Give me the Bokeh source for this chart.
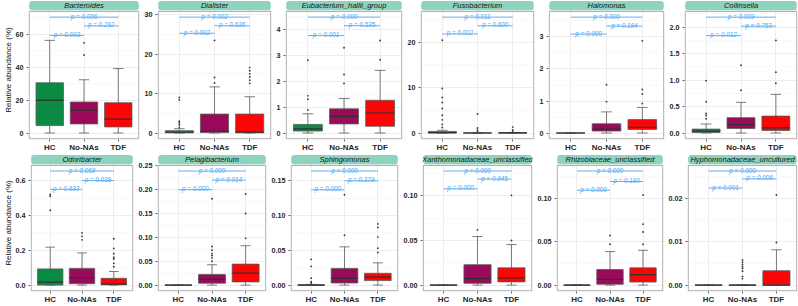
from bokeh.plotting import figure
from bokeh.layouts import column, row
from bokeh.models import Range1d, FixedTicker, PrintfTickFormatter, ColumnDataSource, Quad
from bokeh.core.properties import value
from bokeh.embed import file_html
from bokeh.resources import INLINE

# ---------------- data ----------------
groups = ["HC", "No-NAs", "TDF"]
group_colors = ["#0b8a43", "#990a5a", "#fb0606"]

taxa = ["Bacteroides", "Dialister", "Eubacterium_hallii_group", "Fusobacterium",
        "Halomonas", "Collinsella",
        "Odoribacter", "Pelagibacterium", "Sphingomonas",
        "Xanthomonadaceae_unclassified", "Rhizobiaceae_unclassified",
        "Hyphomonadaceae_uncultured"]

lower_whisker = [[0, 0, 0]] * 12

q1 = [[4.5, 5.5, 3.7], [0.05, 0.1, 0.05], [0.075, 0.35, 0.26], [0, 0, 0],
      [0, 0.06, 0.11], [0.01, 0.085, 0.048],
      [0, 0.008, 0.002], [0, 0.004, 0.0067], [0, 0.003, 0.0065],
      [0, 0.002, 0.0036], [0, 0.001, 0.0035], [0, 0, 0]]

median = [[20, 13.8, 8.4], [0.2, 0.4, 0.25], [0.16, 0.64, 0.77], [0.08, 0, 0.01],
          [0, 0.12, 0.18], [0.037, 0.16, 0.098],
          [0.017, 0.043, 0.006], [0, 0.012, 0.025], [0, 0.0097, 0.0115],
          [0, 0.0072, 0.0082], [0, 0.0066, 0.0121], [0, 0, 0]]

q3 = [[30.5, 18.8, 18.4], [0.6, 4.8, 4.8], [0.33, 0.93, 1.26], [0.35, 0.03, 0.05],
      [0, 0.29, 0.42], [0.074, 0.29, 0.32],
      [0.093, 0.096, 0.039], [0, 0.0223, 0.044], [0.0005, 0.024, 0.017],
      [0, 0.0229, 0.0194], [0, 0.0179, 0.0198], [0, 0, 0.0033]]

upper_whisker = [[56.2, 32.3, 39.1], [1.1, 11.7, 9.2], [0.74, 1.33, 2.41], [0.6, 0.07, 0.1],
                 [0, 0.66, 0.8], [0.17, 0.58, 0.73],
                 [0.218, 0.185, 0.078], [0, 0.0426, 0.0825], [0.001, 0.055, 0.032],
                 [0, 0.0545, 0.0455], [0, 0.0385, 0.04], [0, 0, 0.0081]]

outliers = [
    [[], [47.3, 54.7], []],
    [[1.5, 2.1, 2.6, 3.0, 8.4, 9.0], [12.7, 14.1, 23.5], [12.6, 13.4, 14.2, 15.0, 15.8, 16.6]],
    [[0.89, 1.3, 1.43, 2.8], [1.91, 2.25, 3.28], [2.82, 3.56]],
    [[1.2, 1.9, 2.9, 3.9, 5.4, 6.7, 7.8, 9.8, 20.4], [0.3, 0.6, 1.1, 4.2], [0.4, 0.7, 1.3]],
    [[], [0.98, 1.51], [0.92, 1.22, 1.36, 2.88]],
    [[0.27, 0.33, 0.37, 0.59, 0.99], [0.81, 1.28], [0.94, 1.15, 1.75]],
    [[0.43, 0.51, 0.52], [0.26, 0.28, 0.30], [0.105, 0.125, 0.15, 0.16, 0.18, 0.21, 0.266]],
    [[], [0.05, 0.057, 0.062, 0.066, 0.073, 0.081, 0.181], [0.098, 0.15, 0.191]],
    [[0.003, 0.005, 0.01, 0.027, 0.037], [0.0716, 0.13], [0.047, 0.053, 0.069, 0.083, 0.088]],
    [[], [0.062], [0.05, 0.1007]],
    [[], [0.047, 0.057], [0.047, 0.061, 0.07, 0.1036]],
    [[], [0.0015, 0.002, 0.0032, 0.0038, 0.0042, 0.0047, 0.0052, 0.0057], [0.0098, 0.0207]],
]

# comparisons: HC vs TDF (top), No-NAs vs TDF (middle), HC vs No-NAs (low)
comparisons = [("HC", "TDF"), ("No-NAs", "TDF"), ("HC", "No-NAs")]
p_values = [
    ["0.006", "0.292", "0.003"], ["0.002", "0.636", "0.002"], ["0.000", "0.535", "0.001"],
    ["0.011", "0.600", "0.002"], ["0.000", "0.184", "0.000"], ["0.009", "0.753", "0.012"],
    ["0.068", "0.039", "0.633"], ["0.000", "0.014", "0.000"], ["0.000", "0.378", "0.000"],
    ["0.000", "0.845", "0.000"], ["0.000", "0.190", "0.000"], ["0.000", "0.006", "0.001"],
]
bracket_y = [
    [70.3, 65.0, 59.2], [29.4, 27.2, 25.3], [4.46, 4.13, 3.75],
    [25.5, 23.6, 21.8], [3.62, 3.34, 3.09], [2.19, 2.02, 1.84],
    [0.655, 0.60, 0.55], [0.239, 0.22, 0.20], [0.164, 0.15, 0.137],
    [0.128, 0.119, 0.108], [0.131, 0.119, 0.109], [0.0262, 0.0244, 0.0223],
]

y_ticks = [
    [0, 20, 40, 60], [0, 10, 20, 30], [0, 1, 2, 3, 4], [0, 10, 20], [0, 1, 2, 3],
    [0, 0.5, 1.0, 1.5, 2.0],
    [0, 0.2, 0.4, 0.6], [0, 0.05, 0.10, 0.15, 0.20, 0.25], [0, 0.05, 0.10, 0.15],
    [0, 0.05, 0.10], [0, 0.05, 0.10], [0, 0.01, 0.02],
]
tick_formats = ["%d", "%d", "%d", "%d", "%d", "%.1f",
                "%.1f", "%.2f", "%.2f", "%.2f", "%.2f", "%.2f"]

y_title = "Relative abundance (%)"

# ---------------- styling / layout ----------------
FONT = "Liberation Sans"
STRIP = "#8dd3bd"
LINE = "#5a5a5a"
BLUE = "#4ea6f5"
TXT = "#262626"
BORDER = "#a3a3a3"

# per-figure horizontal geometry: (width, left border, right border)
geo_row1 = [(141, 23, 2), (132, 13, 2), (131, 12, 2), (132, 13, 2), (130, 11, 2), (132, 14, 1)]
geo_row2 = [(135, 23, 2), (133, 19, 2), (132, 20, 2), (134, 22, 2), (131, 19, 2), (133, 22, 1)]
# vertical geometry: (figure height, bottom border); strip lives in the top 11 px of the frame
vgeo_row1 = (154, 13)
vgeo_row2 = (152, 13)
STRIP_PX = 11.0   # strip band (incl. 1px gap) above the panel
PAD = 0.7         # px so the panel border is not clipped

has_radius = "border_radius" in Quad.properties()


def make_panel(i, width, left, right, h, bottom, ylabel):
    M = bracket_y[i][0]
    frame_h = h - bottom
    frame_w = width - left - right
    u = 1.1 * M / (frame_h - STRIP_PX - PAD)          # data units per pixel
    dx = PAD * 3.2 / (frame_w - 2 * PAD)
    y0 = -0.05 * M - PAD * u
    y1 = 1.05 * M + STRIP_PX * u
    p = figure(width=width, height=h, x_range=Range1d(0.4 - dx, 3.6 + dx),
               y_range=Range1d(y0, y1), output_backend="svg",
               toolbar_location=None, min_border_left=left, min_border_right=right,
               min_border_top=0, min_border_bottom=bottom)
    p.outline_line_color = None
    p.background_fill_color = "white"
    p.border_fill_color = "white"

    xs = [k + 1 for k in range(len(groups))]
    src = ColumnDataSource(dict(
        x=xs,
        x0=[x - 0.4 for x in xs], x1=[x + 0.4 for x in xs],
        c0=[x - 0.15 for x in xs], c1=[x + 0.15 for x in xs],
        lw=lower_whisker[i], q1=q1[i], med=median[i], q3=q3[i], uw=upper_whisker[i],
        color=group_colors,
    ))
    # whiskers + caps
    p.segment(x0="x", x1="x", y0="lw", y1="uw", source=src, line_color=LINE, line_width=0.8)
    p.segment(x0="c0", x1="c1", y0="uw", y1="uw", source=src, line_color=LINE, line_width=0.8)
    p.segment(x0="c0", x1="c1", y0="lw", y1="lw", source=src, line_color=LINE, line_width=0.8)
    # boxes
    p.quad(left="x0", right="x1", bottom="q1", top="q3", source=src, fill_color="color",
           line_color=LINE, line_width=0.8)
    p.segment(x0="x0", x1="x1", y0="med", y1="med", source=src, line_color="#303030",
              line_width=1.2)
    # outliers
    ox, oy = [], []
    for k, vals in enumerate(outliers[i]):
        ox += [xs[k]] * len(vals)
        oy += vals
    p.scatter(x=ox, y=oy, size=1.9, color="#3d3d3d", line_width=0)

    # significance brackets
    bx0 = [groups.index(a) + 1 for a, b in comparisons]
    bx1 = [groups.index(b) + 1 for a, b in comparisons]
    bsrc = ColumnDataSource(dict(
        x0=bx0, x1=bx1, y=bracket_y[i], xm=[(a + b) / 2 for a, b in zip(bx0, bx1)],
        label=["p = " + v for v in p_values[i]],
    ))
    p.segment(x0="x0", x1="x1", y0="y", y1="y", source=bsrc, line_color=BLUE, line_width=0.9)
    p.text(x="xm", y="y", text="label", source=bsrc, text_align="center",
           text_baseline="alphabetic", y_offset=-1, text_font=value(FONT),
           text_font_style="italic", text_font_size="6.3px", text_color=BLUE)

    # panel border
    p.quad(left=0.4, right=3.6, bottom=-0.05 * M, top=1.05 * M, fill_color=None,
           line_color=BORDER, line_width=1)

    # strip (facet label)
    kw = {"border_radius": 3} if has_radius else {}
    s_top = y1 - 0.5 * u
    s_bot = y1 - 10.0 * u
    p.quad(left=0.4, right=3.6, bottom=s_bot, top=s_top, fill_color=STRIP,
           line_color=None, **kw)
    p.text(x=[2.0], y=[(s_top + s_bot) / 2], text=[taxa[i]], text_align="center",
           text_baseline="middle", text_font=value(FONT), text_font_style="italic",
           text_font_size="7.5px", text_color="#141414")

    # axes
    p.xaxis.ticker = FixedTicker(ticks=xs)
    p.xaxis.major_label_overrides = {x: g for x, g in zip(xs, groups)}
    ticks = y_ticks[i]
    step = ticks[1] - ticks[0]
    minor = [t + step / 2 for t in ticks if t + step / 2 < 1.05 * M]
    p.yaxis.ticker = FixedTicker(ticks=ticks, minor_ticks=minor)
    p.yaxis.formatter = PrintfTickFormatter(format=tick_formats[i])
    for ax in (p.xaxis[0], p.yaxis[0]):
        ax.axis_line_color = None
        ax.major_tick_line_color = "#333333"
        ax.major_tick_line_width = 0.8
        ax.major_tick_out = 2
        ax.major_tick_in = 0
        ax.minor_tick_line_color = None
        ax.major_label_text_font = FONT
        ax.major_label_text_font_style = "bold"
        ax.major_label_text_color = TXT
        ax.major_label_standoff = 1
    p.xaxis.major_label_text_font_size = "8px"
    p.yaxis.major_label_text_font_size = "7.2px"
    if ylabel:
        p.yaxis.axis_label = y_title
        p.yaxis.axis_label_text_font = FONT
        p.yaxis.axis_label_text_font_size = "8px"
        p.yaxis.axis_label_text_font_style = "normal"
        p.yaxis.axis_label_text_color = "#111111"
        p.yaxis.axis_label_standoff = 0

    p.xgrid.grid_line_color = "#e8e8e8"
    p.xgrid.grid_line_width = 0.8
    p.ygrid.ticker = FixedTicker(ticks=ticks, minor_ticks=minor)
    p.ygrid.grid_line_color = "#e8e8e8"
    p.ygrid.grid_line_width = 0.8
    p.ygrid.minor_grid_line_color = "#f2f2f2"
    p.ygrid.minor_grid_line_width = 0.5
    return p


def build_row(indices, geo, vgeo):
    h, bot = vgeo
    figs = []
    for j, i in enumerate(indices):
        w, l, r = geo[j]
        figs.append(make_panel(i, w, l, r, h, bot, ylabel=(j == 0)))
    return row(figs, spacing=0)


layout = column(build_row(range(0, 6), geo_row1, vgeo_row1),
                build_row(range(6, 12), geo_row2, vgeo_row2), spacing=0)

open("out.html", "w").write(file_html(layout, INLINE))
